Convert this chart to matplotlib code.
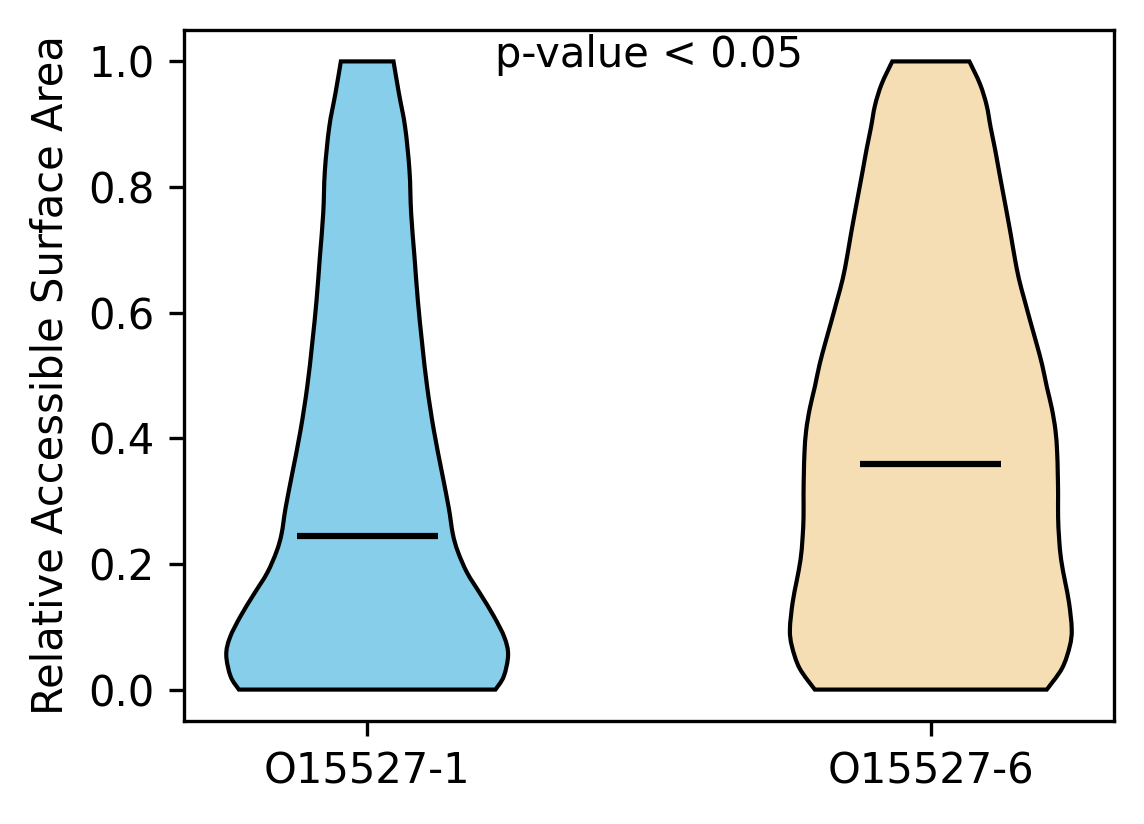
import numpy as np
import matplotlib
matplotlib.use("Agg")
import matplotlib.pyplot as plt
from matplotlib.path import Path
from matplotlib.patches import PathPatch

categories = ["O15527-1", "O15527-6"]
colors = ["#87CEEB", "#F5DEB3"]
medians = [0.244, 0.359]

# density profiles (relative half-width, max = 1)
y1 = [0.0, 0.021, 0.055, 0.083, 0.117, 0.152, 0.186, 0.220, 0.248, 0.289, 0.344,
      0.413, 0.482, 0.551, 0.620, 0.689, 0.758, 0.826, 0.895, 0.950, 1.0]
d1 = [385, 410, 423, 412, 380, 340, 300, 272, 257, 245, 225,
      200, 180, 165, 152, 142, 132, 127, 114, 95, 79]

y2 = [0.0, 0.034, 0.069, 0.096, 0.138, 0.172, 0.207, 0.241, 0.275, 0.310, 0.344,
      0.379, 0.413, 0.448, 0.482, 0.517, 0.551, 0.585, 0.620, 0.654, 0.689,
      0.723, 0.758, 0.792, 0.826, 0.861, 0.895, 0.930, 0.964, 1.0]
d2 = [349, 395, 418, 424, 416, 404, 392, 386, 383, 383, 382,
      380, 375, 364, 349, 335, 318, 300, 282, 265, 252,
      241, 229, 217, 205, 193, 180, 168, 148, 116]

profiles = [(y1, d1), (y2, d2)]
positions = [1, 2]
width = 0.5


def smooth_segments(pts):
    """Catmull-Rom through the points, as cubic Bezier control points."""
    pts = np.asarray(pts)
    n = len(pts)
    verts = []
    for i in range(n - 1):
        p0 = pts[max(i - 1, 0)]
        p1 = pts[i]
        p2 = pts[i + 1]
        p3 = pts[min(i + 2, n - 1)]
        c1 = p1 + (p2 - p0) / 6.0
        c2 = p2 - (p3 - p1) / 6.0
        verts += [c1, c2, p2]
    return verts


fig = plt.figure(figsize=(11.44 / 3, 8.24 / 3), dpi=300)
ax = fig.add_axes([184 / 1144, 1 - 721 / 824, (1114 - 184) / 1144, (721 - 30) / 824])

for pos, (yy, dd), c, med in zip(positions, profiles, colors, medians):
    yy = np.array(yy)
    dd = np.array(dd, dtype=float)
    hw = dd / dd.max() * width / 2
    right = np.column_stack([pos + hw, yy])
    left = np.column_stack([pos - hw, yy])[::-1]
    verts = [right[0]]
    codes = [Path.MOVETO]
    seg = smooth_segments(right)
    verts += seg
    codes += [Path.CURVE4] * len(seg)
    verts.append(left[0])
    codes.append(Path.LINETO)
    seg = smooth_segments(left)
    verts += seg
    codes += [Path.CURVE4] * len(seg)
    verts.append(right[0])
    codes.append(Path.CLOSEPOLY)
    patch = PathPatch(Path(np.array(verts), codes), facecolor=c,
                      edgecolor="black", linewidth=1.0)
    ax.add_patch(patch)
    ax.hlines(med, pos - width / 4, pos + width / 4, color="black", linewidth=1.5)

ax.set_xlim(0.675, 2.325)
ax.set_ylim(-0.05, 1.05)
ax.set_xticks(positions)
ax.set_xticklabels(categories)
ax.set_yticks([0.0, 0.2, 0.4, 0.6, 0.8, 1.0])
ax.set_ylabel("Relative Accessible Surface Area")
ax.text(1.5, 1.01, "p-value < 0.05", ha="center", va="center")

fig.savefig("out.png", dpi=300)
